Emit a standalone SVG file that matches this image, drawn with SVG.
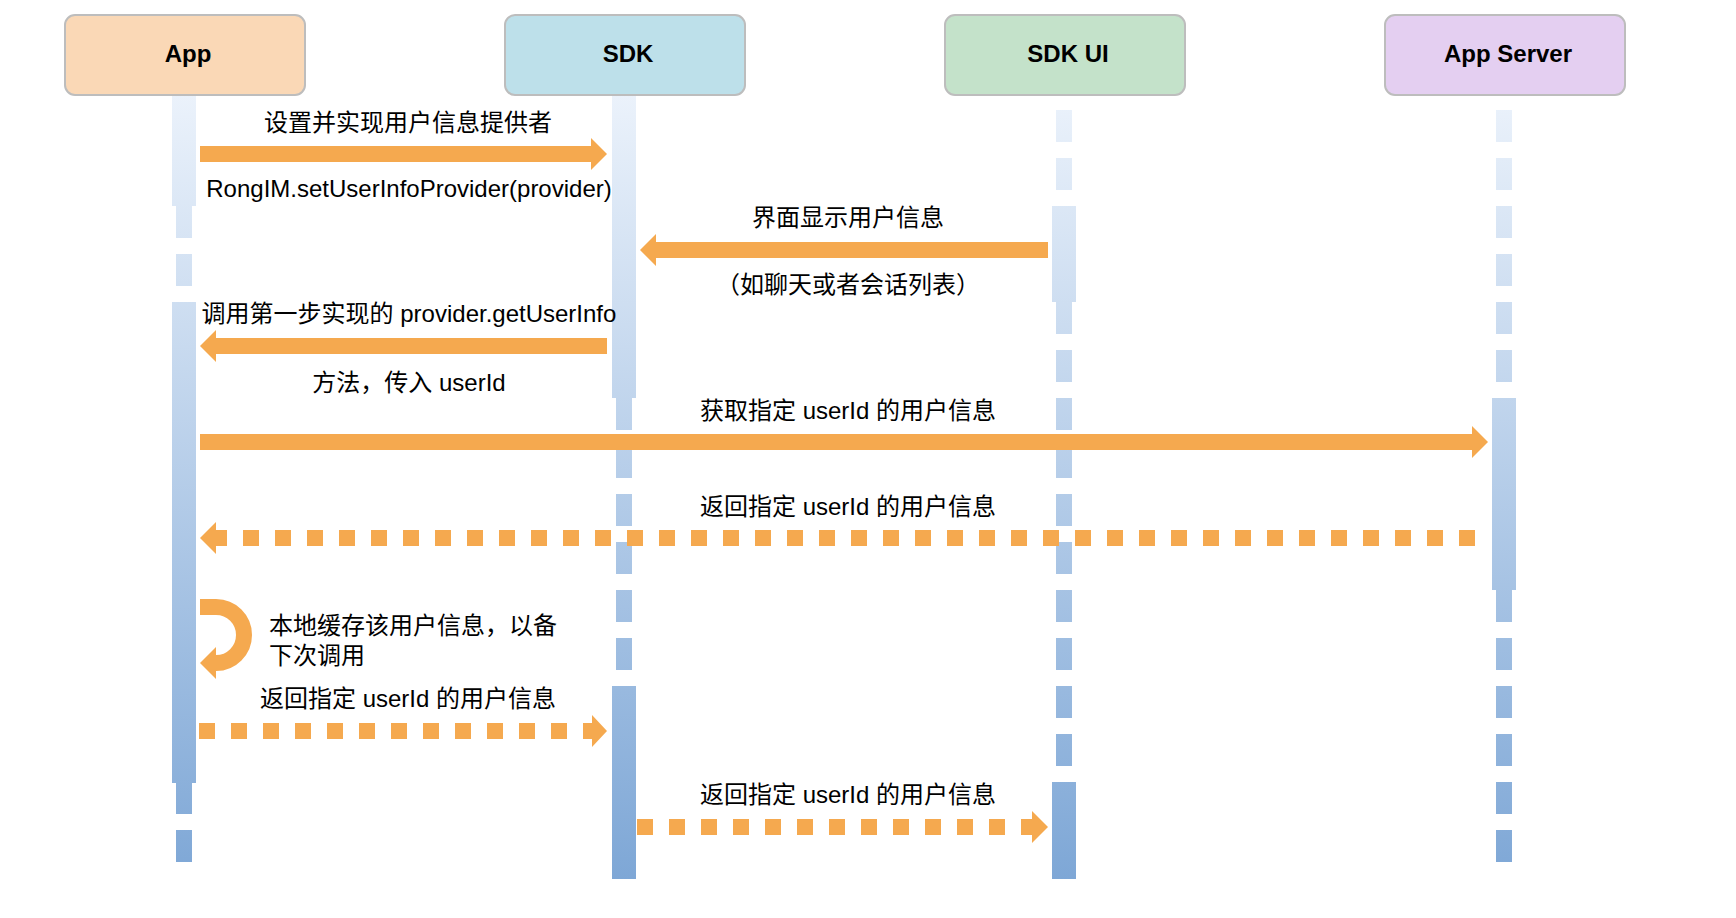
<svg xmlns="http://www.w3.org/2000/svg" width="1736" height="918" viewBox="0 0 1736 918">
<style>
.box{stroke:#bdbdbd;stroke-width:2}
.hdr{font-family:'Liberation Sans','Noto Sans CJK SC',sans-serif;font-size:24px;font-weight:bold;fill:#000;text-anchor:middle}
.lbl{font-family:'Liberation Sans','Noto Sans CJK SC',sans-serif;font-size:24px;fill:#000;text-anchor:middle}
.lft{text-anchor:start}
.life{stroke:url(#lg);stroke-width:16;stroke-dasharray:32 16;fill:none}
.act{fill:url(#lg)}
.arr{fill:#f5a94f}
.dash{stroke:#f5a94f;stroke-width:16;stroke-dasharray:16 16;fill:none}
</style>
<defs>
<linearGradient id="lg" gradientUnits="userSpaceOnUse" x1="0" y1="95" x2="0" y2="880">
<stop offset="0" stop-color="#ebf2fb"/>
<stop offset="1" stop-color="#7ea7d6"/>
</linearGradient>
</defs>
<rect width="1736" height="918" fill="#fff"/>

<g id="lifelines">
<line class="life" x1="184" y1="110" x2="184" y2="863"/>
<line class="life" x1="624" y1="110" x2="624" y2="863"/>
<line class="life" x1="1064" y1="110" x2="1064" y2="863"/>
<line class="life" x1="1504" y1="110" x2="1504" y2="863"/>
<rect class="act" x="172" y="95" width="24" height="111"/>
<rect class="act" x="172" y="302" width="24" height="481"/>
<rect class="act" x="612" y="95" width="24" height="303"/>
<rect class="act" x="612" y="686" width="24" height="193"/>
<rect class="act" x="1052" y="206" width="24" height="96"/>
<rect class="act" x="1052" y="782" width="24" height="97"/>
<rect class="act" x="1492" y="398" width="24" height="192"/>
</g>

<g id="node-app">
<rect class="box" x="65" y="15" width="240" height="80" rx="10" fill="#fad8b6"/>
<text class="hdr" x="188" y="62">App</text>
</g>
<g id="node-sdk">
<rect class="box" x="505" y="15" width="240" height="80" rx="10" fill="#bde0ea"/>
<text class="hdr" x="628" y="62">SDK</text>
</g>
<g id="node-sdkui">
<rect class="box" x="945" y="15" width="240" height="80" rx="10" fill="#c4e2ca"/>
<text class="hdr" x="1068" y="62">SDK UI</text>
</g>
<g id="node-appserver">
<rect class="box" x="1385" y="15" width="240" height="80" rx="10" fill="#e4cff1"/>
<text class="hdr" x="1508" y="62">App Server</text>
</g>

<g id="connectors">
<path class="arr" d="M200,146 H591 V138 L607,154 L591,170 V162 H200 Z"/>
<path class="arr" d="M1048,242 H656 V234 L640,250 L656,266 V258 H1048 Z"/>
<path class="arr" d="M607,338 H216 V330 L200,346 L216,362 V354 H607 Z"/>
<path class="arr" d="M200,434 H1472 V426 L1488,442 L1472,458 V450 H200 Z"/>
<line class="dash" x1="1475" y1="538" x2="211" y2="538"/>
<path class="arr" d="M216,522 L200,538 L216,554 Z"/>
<path d="M200,607 H216 A28,28 0 0 1 216,663 H214" stroke="#f5a94f" stroke-width="16" fill="none"/>
<path class="arr" d="M216,647 L200,663 L216,679 Z"/>
<line class="dash" x1="199" y1="731" x2="597" y2="731"/>
<path class="arr" d="M592,715 L607,731 L592,747 Z"/>
<line class="dash" x1="637" y1="827" x2="1037" y2="827"/>
<path class="arr" d="M1032,811 L1048,827 L1032,843 Z"/>
</g>

<g id="labels">
<text class="lbl" x="408" y="131">设置并实现用户信息提供者</text>
<text class="lbl" x="409" y="197">RongIM.setUserInfoProvider(provider)</text>
<text class="lbl" x="848" y="226">界面显示用户信息</text>
<text class="lbl" x="848" y="293">（如聊天或者会话列表）</text>
<text class="lbl" x="409" y="322">调用第一步实现的 provider.getUserInfo</text>
<text class="lbl" x="409" y="391">方法，传入 userId</text>
<text class="lbl" x="848" y="419">获取指定 userId 的用户信息</text>
<text class="lbl" x="848" y="515">返回指定 userId 的用户信息</text>
<text class="lbl lft" x="269" y="634">本地缓存该用户信息，以备</text>
<text class="lbl lft" x="269" y="664">下次调用</text>
<text class="lbl" x="408" y="707">返回指定 userId 的用户信息</text>
<text class="lbl" x="848" y="803">返回指定 userId 的用户信息</text>
</g>
</svg>
